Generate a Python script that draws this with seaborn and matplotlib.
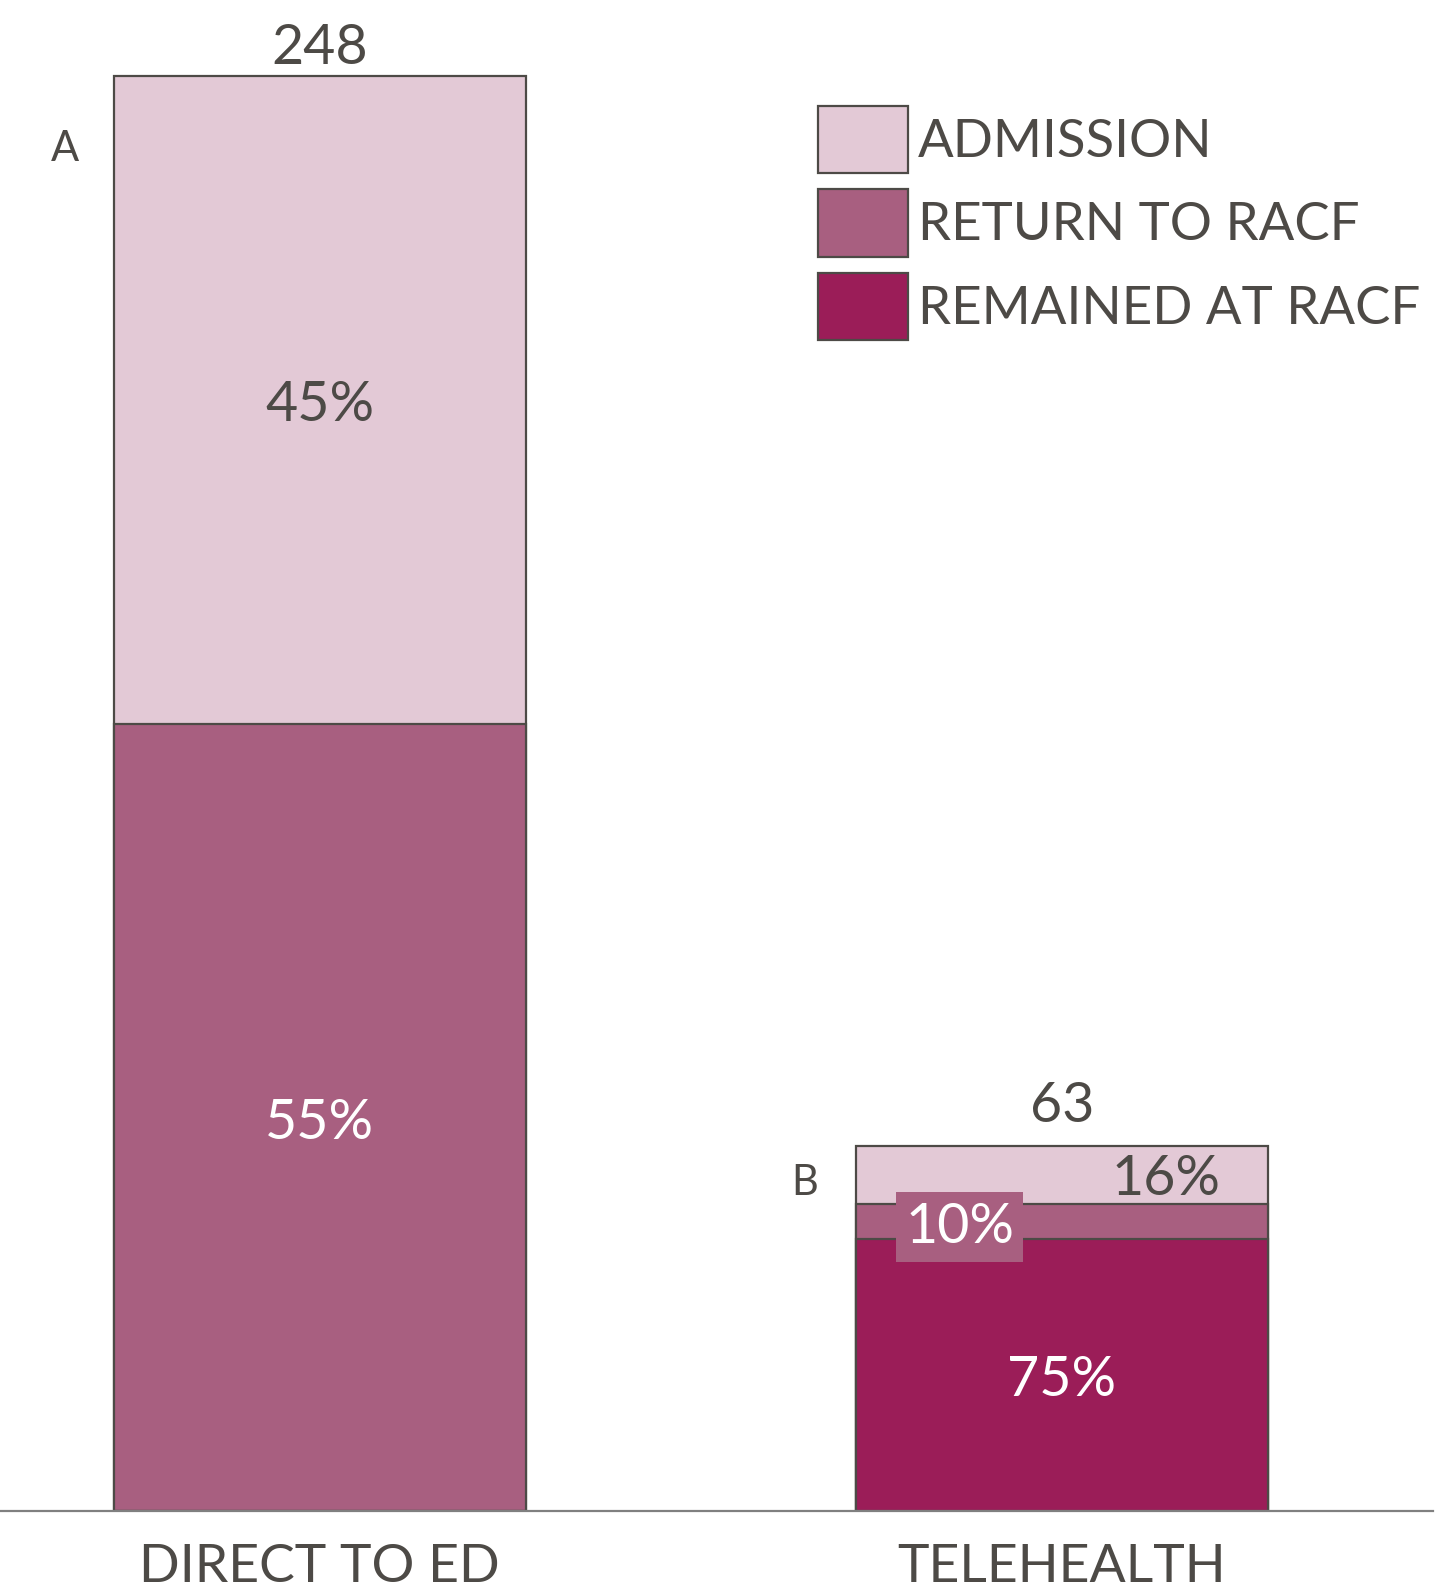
import matplotlib
matplotlib.use("Agg")
import matplotlib.pyplot as plt
import matplotlib.patches as mpatches
import seaborn as sns
import pandas as pd
import numpy as np

# ---- data ----
categories = ["DIRECT TO ED", "TELEHEALTH"]
remained = [0, 47]
returned = [136, 6]
admission = [112, 10]
totals = [248, 63]
pct_remained = ["", "75%"]
pct_returned = ["55%", "10%"]
pct_admission = ["45%", "16%"]
panel_letters = ["A", "B"]
series_names = ["ADMISSION", "RETURN TO RACF", "REMAINED AT RACF"]

c_adm = "#E3C9D6"
c_ret = "#A85F80"
c_rem = "#9B1D58"
edge = "#4D4A46"
txt = "#4D4A46"

sns.set_theme(style="white")
plt.rcParams["font.family"] = ["Lato", "DejaVu Sans"]

df = pd.DataFrame({
    "cat": categories,
    "rem": remained,
    "ret": returned,
    "adm": admission,
})
df["top_ret"] = df["rem"] + df["ret"]
df["top_adm"] = df["top_ret"] + df["adm"]

fig = plt.figure(figsize=(14.38, 15.94), dpi=100)
ax = fig.add_axes([0, 83 / 1594, 1433 / 1438, 1 - 83 / 1594])

W = 0.555
lw = 1.6
sns.barplot(data=df, x="cat", y="top_adm", color=c_adm, edgecolor=edge,
            linewidth=lw, width=W, ax=ax, saturation=1)
sns.barplot(data=df, x="cat", y="top_ret", color=c_ret, edgecolor=edge,
            linewidth=lw, width=W, ax=ax, saturation=1)
sns.barplot(data=df, x="cat", y="rem", color=c_rem, edgecolor=edge,
            linewidth=lw, width=W, ax=ax, saturation=1)

ax.set_xlim(-0.431, 1.5)
ax.set_ylim(0, 261.1)
ax.set_xlabel("")
ax.set_ylabel("")
ax.set_yticks([])
for s in ["top", "left", "right"]:
    ax.spines[s].set_visible(False)
ax.spines["bottom"].set_color("#808080")
ax.spines["bottom"].set_linewidth(1.6)
ax.tick_params(axis="x", length=0, pad=24, labelsize=38.5, colors=txt)

fs = 40
dy = -1.0  # small downward nudge for centred labels
total_offsets = [0.3, 2.5]
for i in range(len(categories)):
    ax.text(i, df["top_adm"][i] + total_offsets[i], str(totals[i]),
            ha="center", va="bottom", fontsize=fs, color=txt)

# Direct to ED labels
ax.text(0, df["top_ret"][0] + admission[0] / 2 + dy, pct_admission[0],
        ha="center", va="center", fontsize=fs, color=txt)
ax.text(0, returned[0] / 2 + dy, pct_returned[0], ha="center", va="center",
        fontsize=fs, color="white")

# Telehealth labels
ax.text(1, remained[1] / 2 + dy, pct_remained[1], ha="center", va="center",
        fontsize=fs, color="white")
ax.text(1.14, df["top_ret"][1] + admission[1] / 2 - 0.8, pct_admission[1],
        ha="center", va="center", fontsize=fs, color=txt)
ax.text(0.862, df["rem"][1] + returned[1] / 2 - 1.0, pct_returned[1],
        ha="center", va="center", fontsize=fs, color="white",
        bbox=dict(boxstyle="square,pad=0.17", facecolor=c_ret, edgecolor="none"))

# panel letters
ax.text(-0.343, 235.3, panel_letters[0], ha="center", va="center",
        fontsize=30, color=txt)
ax.text(0.653, 56.7, panel_letters[1], ha="center", va="center",
        fontsize=30, color=txt)

handles = [mpatches.Patch(facecolor=c, edgecolor=edge, linewidth=lw)
           for c in [c_adm, c_ret, c_rem]]
leg = ax.legend(handles, series_names, loc="upper left",
                bbox_to_anchor=(818 / 1433, 1 - 106 / 1511), frameon=False,
                fontsize=38, handlelength=1.7, handleheight=1.58,
                handletextpad=0.2, labelspacing=0.31, borderaxespad=0,
                borderpad=0)
for t in leg.get_texts():
    t.set_color(txt)

fig.savefig("out.png", dpi=100)
